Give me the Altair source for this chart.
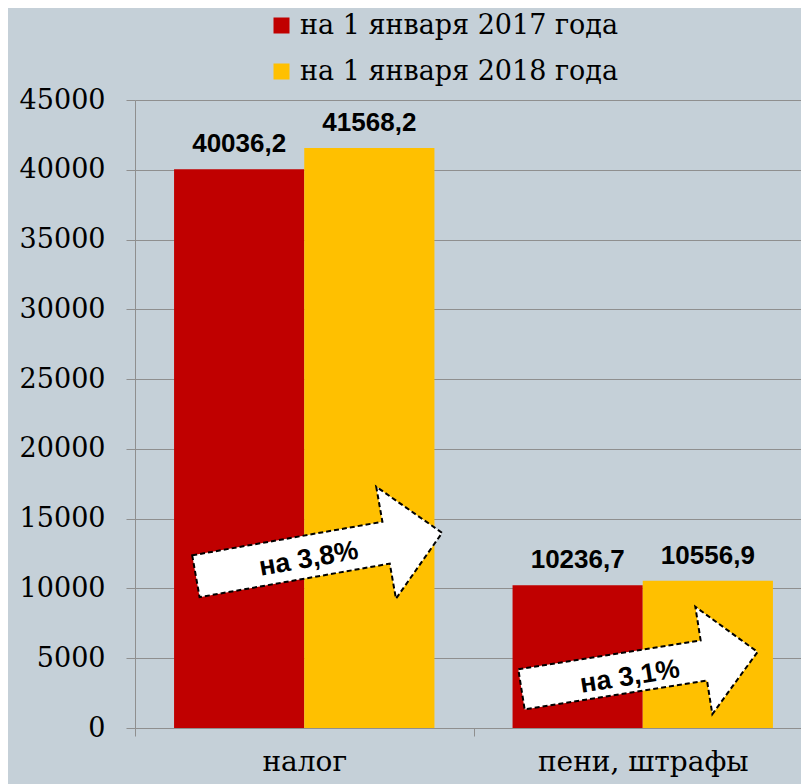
import altair as alt
import pandas as pd

# ---- data ----
categories = ["налог", "пени, штрафы"]
series = ["на 1 января 2017 года", "на 1 января 2018 года"]
values_2017 = [40036.2, 10236.7]
values_2018 = [41568.2, 10556.9]
labels_2017 = ["40036,2", "10236,7"]
labels_2018 = ["41568,2", "10556,9"]
colors = ["#c00000", "#ffc000"]
y_ticks = [0, 5000, 10000, 15000, 20000, 25000, 30000, 35000, 40000, 45000]

# growth arrows (annotation anchors in data units)
arrow_categories = ["налог", "пени, штрафы"]
arrow_center_values = [12430, 4110]
arrow_label_values = [12040, 3800]
arrow_texts = ["на 3,8%", "на 3,1%"]

SERIF = "DejaVu Serif"
SANS = "Liberation Sans"
GRAY = "#8f8f8f"
BG = "#c5d0d8"

rows = []
for i, c in enumerate(categories):
    rows.append({"cat": c, "series": series[0], "value": values_2017[i], "label": labels_2017[i]})
    rows.append({"cat": c, "series": series[1], "value": values_2018[i], "label": labels_2018[i]})
df = pd.DataFrame(rows)

x_scale = alt.Scale(domain=categories, range=[0, 677], paddingInner=0, paddingOuter=0)
x_axis = alt.Axis(title=None, labelAngle=0, labelFont=SERIF, labelFontSize=28,
                  labelColor="black", labelPadding=12, labelLimit=0, tickBand="extent",
                  tickSize=8, tickColor=GRAY, domainColor=GRAY, grid=False)
x_enc = alt.X("cat:N", sort=categories, scale=x_scale, axis=x_axis)
y_enc = alt.Y("value:Q", scale=alt.Scale(domain=[0, 45000], nice=False),
              axis=alt.Axis(values=y_ticks, format="d", title=None, labelFont=SERIF,
                            labelFontSize=27, labelColor="black", tickSize=9,
                            labelPadding=21, grid=True, gridColor=GRAY, gridWidth=1,
                            domainColor=GRAY, tickColor=GRAY))
xoff = alt.XOffset("series:N", sort=series, scale=alt.Scale(paddingOuter=0.3, paddingInner=0))

bars = alt.Chart(df).mark_bar().encode(
    x=x_enc, y=y_enc, xOffset=xoff,
    color=alt.Color("series:N", sort=series,
                    scale=alt.Scale(domain=series, range=colors),
                    legend=alt.Legend(title=None, orient="none", legendX=133, legendY=-88,
                                      direction="vertical", labelFont=SERIF, labelFontSize=27,
                                      labelColor="black", labelLimit=0, symbolType="square",
                                      symbolSize=256, symbolStrokeWidth=0, rowPadding=18,
                                      labelOffset=5)),
)

texts = alt.Chart(df).mark_text(font=SANS, fontWeight="bold", fontSize=26,
                                baseline="alphabetic", dy=-17, color="black").encode(
    x=x_enc, y=y_enc, xOffset=xoff, text="label:N")

ARROW = "M-1,-0.17 L0.545,-0.17 L0.545,-0.455 L1,0 L0.545,0.455 L0.545,0.17 L-1,0.17 Z"
arrow_offset = [184, 166]   # pixel offset from the band start (style)
arrow_size = [62500, 57121]
arrow_angle = [350, 351]
text_dx = [4.5, -13]

layers = [bars, texts]
for i in range(len(arrow_categories)):
    adf = pd.DataFrame({"cat": [arrow_categories[i]], "value": [arrow_center_values[i]],
                        "lv": [arrow_label_values[i]], "t": [arrow_texts[i]]})
    arr = alt.Chart(adf).mark_point(shape=ARROW, size=arrow_size[i], angle=arrow_angle[i],
                                    filled=True, fill="white", stroke="black", strokeWidth=2,
                                    strokeDash=[5, 3], opacity=1, fillOpacity=1).encode(
        x=x_enc, y=y_enc, xOffset=alt.value(arrow_offset[i]))
    lab = alt.Chart(adf).mark_text(font=SANS, fontWeight="bold", fontSize=27,
                                   angle=arrow_angle[i], dx=text_dx[i], color="black",
                                   baseline="middle").encode(
        x=x_enc, y=alt.Y("lv:Q", scale=alt.Scale(domain=[0, 45000], nice=False)), text="t:N")
    layers += [arr, lab]

chart = alt.layer(*layers).properties(
    width=666, height=628,
    autosize=alt.AutoSizeParams(type="none"),
    padding={"left": 127, "top": 92, "right": 0, "bottom": 56},
    background=BG,
).configure_view(strokeWidth=0)

chart.save("out.html", embed_options={"renderer": "svg", "actions": False})
